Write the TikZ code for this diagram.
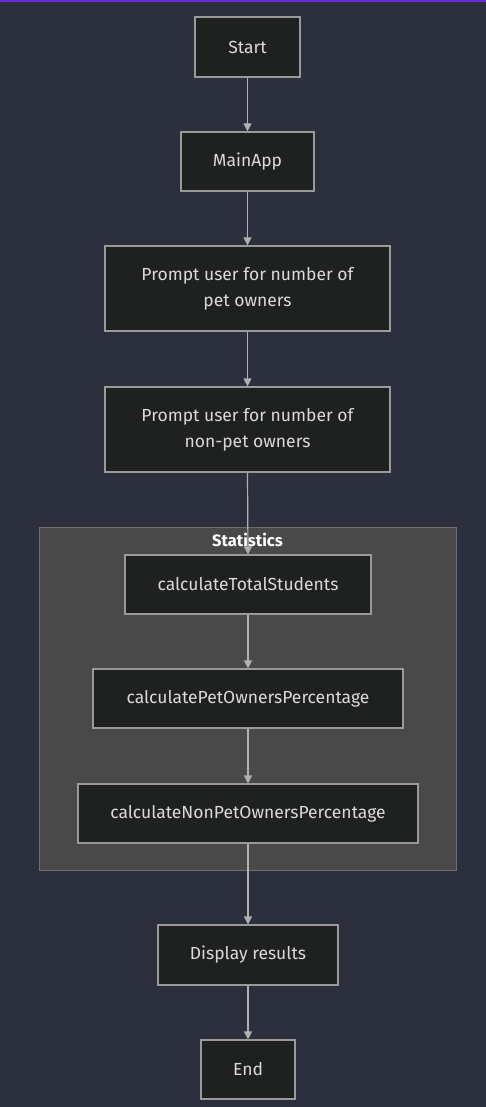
\documentclass[tikz,border=0pt]{standalone}
\usepackage{fontspec}
\setmainfont{Fira Sans}
\usetikzlibrary{arrows.meta}
\definecolor{bg}{HTML}{2B303C}
\definecolor{nodefill}{HTML}{1F2020}
\definecolor{nodeborder}{HTML}{9A9A9A}
\definecolor{txt}{HTML}{DADADA}
\definecolor{subfill}{HTML}{484948}
\definecolor{subborder}{HTML}{6E6E6E}
\definecolor{topline}{HTML}{6F2BE0}
\definecolor{edge}{HTML}{B0B0B0}
\tikzset{
  x=1pt,y=-1pt,
  box/.style={draw=nodeborder,line width=1.2pt,fill=nodefill,text=txt,font=\fontsize{17.5}{26}\selectfont,inner sep=0pt,align=center},
  flow/.style={draw=edge,line width=1.2pt,-{Triangle[length=8pt,width=8pt]}}
}
\newcommand{\bx}[6]{\node[box,minimum width=#4-#2,minimum height=#5-#3] (#1) at ({(#2+#4)/2},{(#3+#5)/2}) {#6};}
\begin{document}
\begin{tikzpicture}
\fill[bg] (0,0) rectangle (486,1107);
\useasboundingbox (0,0) rectangle (486,1107);
\fill[topline] (0,0) rectangle (486,2);
\draw[subborder,fill=subfill,line width=1pt] (39,527) rectangle (456,870);
\node[text=white,font=\fontsize{16.5}{18}\selectfont\bfseries] (stat) at (247.5,540) {Statistics};
\bx{start}{195}{17}{300}{77}{Start}
\bx{main}{181}{132}{314}{191}{MainApp}
\bx{p1}{105}{246}{390}{331}{Prompt user for number of\\pet owners}
\bx{p2}{105}{387}{390}{472}{Prompt user for number of\\non-pet owners}
\bx{c1}{125}{555}{371}{614}{calculateTotalStudents}
\bx{c2}{93}{669}{403}{728}{calculatePetOwnersPercentage}
\bx{c3}{78}{784}{418}{843}{calculateNonPetOwnersPercentage}
\bx{disp}{158}{925}{338}{985}{Display results}
\bx{end}{201}{1040}{295}{1099}{End}
\foreach \a/\b in {start/main,main/p1,p1/p2,p2/c1,c1/c2,c2/c3,c3/disp,disp/end}
  \draw[flow] (\a.south) -- (\b.north);
\end{tikzpicture}
\end{document}
